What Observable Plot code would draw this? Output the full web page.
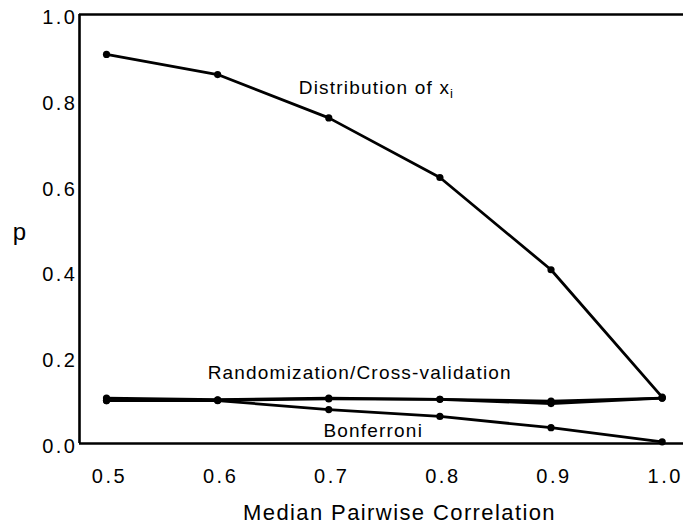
<!DOCTYPE html>
<html>
<head>
<meta charset="utf-8">
<script src="https://cdn.jsdelivr.net/npm/d3@7"></script>
<script src="https://cdn.jsdelivr.net/npm/@observablehq/plot@0.6"></script>
<style>
  body { margin: 0; background: #fff; }
</style>
</head>
<body>
<div id="chart"></div>
<script>
// Data
const correlation = [0.5, 0.6, 0.7, 0.8, 0.9, 1.0];
const distribution = [0.907, 0.860, 0.759, 0.620, 0.405, 0.108];
const randomization = [0.106, 0.102, 0.106, 0.103, 0.099, 0.106];
const crossValidation = [0.100, 0.101, 0.104, 0.103, 0.093, 0.106];
const bonferroni = [0.100, 0.100, 0.079, 0.063, 0.037, 0.004];
const xTicks = [0.5, 0.6, 0.7, 0.8, 0.9, 1.0];
const yTicks = [0.0, 0.2, 0.4, 0.6, 0.8, 1.0];
const seriesNames = ["Distribution", "Randomization", "Cross-validation", "Bonferroni"];
const seriesValues = [distribution, randomization, crossValidation, bonferroni];
// Annotation labels (placed in data units)
const labelText = ["Distribution of x", "Randomization/Cross-validation", "Bonferroni"];
const labelX = [0.673, 0.591, 0.740];
const labelY = [0.828, 0.1655, 0.030];
const labelAnchor = ["start", "start", "middle"];

const rows = [];
seriesNames.forEach((s, i) => correlation.forEach((c, j) => rows.push({series: s, x: c, y: seriesValues[i][j]})));
const labels = labelText.map((t, i) => ({text: t, x: labelX[i], y: labelY[i], anchor: labelAnchor[i]}));

const font = "'Liberation Sans', Arial, Helvetica, sans-serif";
const xDomain = [0.4757, 1.0192];

const svg = Plot.plot({
  width: 683,
  height: 528,
  marginLeft: 79,
  marginRight: 0,
  marginTop: 14,
  marginBottom: 85,
  style: {fontFamily: font, background: "#fff", color: "#000", overflow: "visible"},
  x: {domain: xDomain},
  y: {domain: [0, 1]},
  marks: [
    Plot.axisY({ticks: yTicks, tickSize: 0, tickPadding: 2, tickFormat: d3.format(".1f"), fontSize: 20, dy: 3, label: null}),
    Plot.axisX({ticks: xTicks, tickSize: 0, tickPadding: 25, tickFormat: d3.format(".1f"), fontSize: 20, dx: 3, label: null}),
    Plot.ruleY([0, 1], {stroke: "#000", strokeWidth: 2.6}),
    Plot.ruleX([xDomain[0]], {stroke: "#000", strokeWidth: 2.6}),
    Plot.line(rows, {x: "x", y: "y", z: "series", stroke: "#000", strokeWidth: 2.8}),
    Plot.dot(rows, {x: "x", y: "y", r: 3.6, fill: "#000", stroke: "none"}),
    Plot.text(labels.filter(d => d.anchor === "start"), {x: "x", y: "y", text: "text", textAnchor: "start", fontSize: 19, fill: "#000"}),
    Plot.text(labels.filter(d => d.anchor === "middle"), {x: "x", y: "y", text: "text", textAnchor: "middle", fontSize: 19, fill: "#000"}),
    Plot.text(["p"], {frameAnchor: "left", dx: -60, dy: 3, textAnchor: "middle", fontSize: 24, fill: "#000"}),
    Plot.text(["Median Pairwise Correlation"], {frameAnchor: "bottom", dx: 18, dy: 76, textAnchor: "middle", fontSize: 22, fill: "#000"})
  ]
});

const s = d3.select(svg);
s.selectAll('g[aria-label$="tick label"] text').style("letter-spacing", "2.5px");
s.selectAll('g[aria-label="text"] text').each(function() {
  const t = d3.select(this);
  const content = this.textContent;
  if (content === "Median Pairwise Correlation") t.style("letter-spacing", "1.4px");
  else if (content !== "p") t.style("letter-spacing", "1.2px");
  if (content === "Distribution of x") {
    t.append("tspan").attr("font-size", "13px").attr("dy", "0.3em").text("i");
  }
});

document.getElementById("chart").appendChild(svg);
</script>
</body>
</html>
